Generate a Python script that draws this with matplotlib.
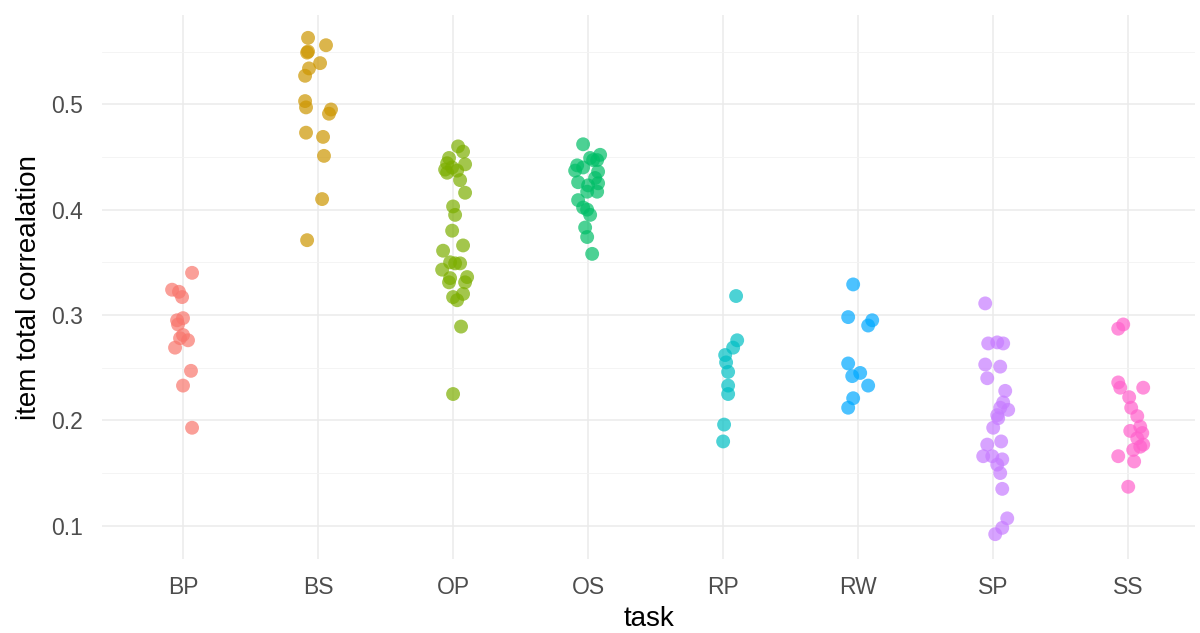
import matplotlib.pyplot as plt

plt.rcParams['font.family'] = ['Liberation Sans', 'DejaVu Sans']

tasks = ["BP", "BS", "OP", "OS", "RP", "RW", "SP", "SS"]
colors = ["#F8766D", "#CD9600", "#7CAE00", "#00BE67",
          "#00BFC4", "#00A9FF", "#C77CFF", "#FF61CC"]

# item total correlation per task, with the horizontal jitter used for each point
bp_vals = [0.340, 0.324, 0.322, 0.317, 0.295, 0.297, 0.291, 0.281, 0.276, 0.278,
           0.269, 0.247, 0.233, 0.193]
bp_jit = [0.067, -0.081, -0.030, -0.007, -0.044, 0.0, -0.037, 0.0, 0.037, -0.022,
          -0.059, 0.059, 0.0, 0.067]

bs_vals = [0.563, 0.556, 0.550, 0.549, 0.539, 0.534, 0.527, 0.503, 0.497, 0.495,
           0.491, 0.473, 0.469, 0.451, 0.410, 0.371]
bs_jit = [-0.074, 0.059, -0.074, -0.081, 0.015, -0.067, -0.096, -0.096, -0.089, 0.096,
          0.081, -0.089, 0.037, 0.044, 0.030, -0.081]

op_vals = [0.460, 0.455, 0.449, 0.444, 0.443, 0.438, 0.440, 0.437, 0.435, 0.428,
           0.416, 0.403, 0.395, 0.380, 0.366, 0.361, 0.350, 0.349, 0.349, 0.343,
           0.335, 0.336, 0.331, 0.331, 0.317, 0.320, 0.314, 0.289, 0.225]
op_jit = [0.037, 0.074, -0.030, -0.044, 0.089, -0.059, -0.007, 0.030, -0.044, 0.052,
          0.089, 0.0, 0.015, -0.007, 0.074, -0.074, -0.022, 0.052, 0.015, -0.081,
          -0.022, 0.104, -0.030, 0.089, 0.0, 0.074, 0.030, 0.059, 0.0]

os_vals = [0.462, 0.452, 0.447, 0.449, 0.442, 0.437, 0.440, 0.436, 0.426, 0.425,
           0.423, 0.417, 0.417, 0.409, 0.402, 0.400, 0.395, 0.383, 0.374, 0.358,
           0.447, 0.430]
os_jit = [-0.037, 0.089, 0.067, 0.015, -0.081, -0.096, -0.037, 0.074, -0.074, 0.074,
          0.0, 0.067, -0.007, -0.074, -0.037, -0.007, 0.015, -0.022, -0.007, 0.030,
          0.037, 0.052]

rp_vals = [0.318, 0.276, 0.269, 0.262, 0.255, 0.246, 0.233, 0.225, 0.196, 0.180]
rp_jit = [0.096, 0.104, 0.074, 0.015, 0.022, 0.037, 0.037, 0.037, 0.007, 0.0]

rw_vals = [0.329, 0.298, 0.295, 0.290, 0.254, 0.242, 0.245, 0.233, 0.221, 0.212]
rw_jit = [-0.037, -0.074, 0.104, 0.074, -0.074, -0.044, 0.015, 0.074, -0.037, -0.074]

sp_vals = [0.311, 0.273, 0.274, 0.273, 0.253, 0.251, 0.240, 0.228, 0.217, 0.210,
           0.202, 0.193, 0.212, 0.205, 0.177, 0.180, 0.166, 0.166, 0.163, 0.158,
           0.150, 0.135, 0.107, 0.098, 0.092]
sp_jit = [-0.059, -0.037, 0.030, 0.074, -0.059, 0.052, -0.044, 0.089, 0.074, 0.111,
          0.037, 0.0, 0.052, 0.030, -0.044, 0.059, -0.074, -0.007, 0.067, 0.030,
          0.052, 0.067, 0.104, 0.067, 0.015]

ss_vals = [0.291, 0.287, 0.236, 0.231, 0.231, 0.222, 0.212, 0.204, 0.190, 0.194,
           0.188, 0.183, 0.172, 0.175, 0.177, 0.166, 0.161, 0.137]
ss_jit = [-0.037, -0.074, -0.074, -0.059, 0.111, 0.007, 0.022, 0.067, 0.015, 0.089,
          0.104, 0.067, 0.037, 0.089, 0.111, -0.074, 0.044, 0.0]

values = [bp_vals, bs_vals, op_vals, os_vals, rp_vals, rw_vals, sp_vals, ss_vals]
jitter = [bp_jit, bs_jit, op_jit, os_jit, rp_jit, rw_jit, sp_jit, ss_jit]

fig = plt.figure(figsize=(12, 6.33), dpi=100)
ax = fig.add_axes([0.085, 0.117, 0.911, 0.859])

for i, (vals, jit) in enumerate(zip(values, jitter)):
    xs = [i + j for j in jit]
    ax.scatter(xs, vals, s=100, color=colors[i], alpha=0.7, edgecolors='none', zorder=3)

ax.set_xlim(-0.6, 7.496)
ax.set_ylim(0.0685, 0.5845)
ax.set_xticks(range(len(tasks)))
ax.set_xticklabels(tasks)
ax.set_yticks([0.1, 0.2, 0.3, 0.4, 0.5])
ax.set_yticks([0.15, 0.25, 0.35, 0.45, 0.55], minor=True)

# minimal theme: light grid, no frame, no tick marks
ax.grid(True, which='major', color='#EBEBEB', linewidth=1.1, zorder=0)
ax.grid(True, which='minor', axis='y', color='#F3F3F3', linewidth=0.6, zorder=0)
for s in ax.spines.values():
    s.set_visible(False)
ax.tick_params(which='both', length=0, labelsize=16.5, labelcolor='#4D4D4D')
ax.tick_params(axis='x', pad=12)
ax.tick_params(axis='y', pad=14)

ax.set_xlabel("task", fontsize=20, color='black', labelpad=5)
ax.set_ylabel("item total correalation", fontsize=20, color='black', labelpad=6)

fig.savefig("out.png", dpi=100)
